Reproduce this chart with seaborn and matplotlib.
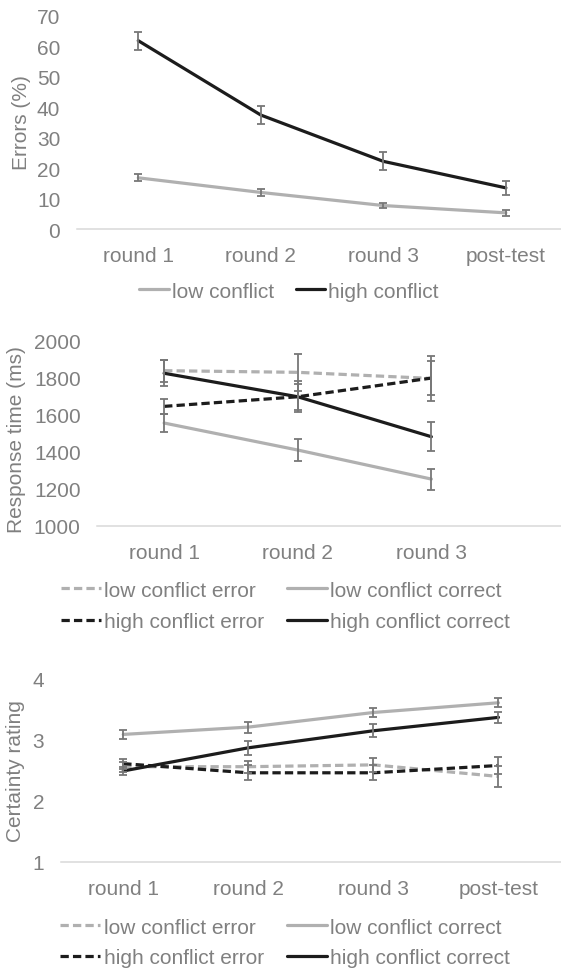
import numpy as np
import pandas as pd
import matplotlib.pyplot as plt
import seaborn as sns

# categories
rounds4 = ["round 1", "round 2", "round 3", "post-test"]
rounds3 = ["round 1", "round 2", "round 3"]

# panel 1: errors (%)
err_low = [16.8, 12.0, 7.7, 5.3]
err_low_se = [1.1, 1.2, 0.7, 1.0]
err_high = [61.8, 37.4, 22.2, 13.5]
err_high_se = [2.9, 2.9, 3.0, 2.2]

# panel 2: response time (ms)
rt_low_error = [1838, 1829, 1796]
rt_low_error_se = [60, 100, 120]
rt_low_correct = [1555, 1409, 1252]
rt_low_correct_se = [50, 60, 57]
rt_high_error = [1645, 1697, 1798]
rt_high_error_se = [40, 85, 90]
rt_high_correct = [1824, 1697, 1481]
rt_high_correct_se = [70, 70, 78]

# panel 3: certainty rating
cr_low_error = [2.56, 2.56, 2.59, 2.40]
cr_low_error_se = [0.08, 0.10, 0.11, 0.17]
cr_low_correct = [3.09, 3.21, 3.45, 3.61]
cr_low_correct_se = [0.08, 0.09, 0.08, 0.07]
cr_high_error = [2.61, 2.46, 2.46, 2.58]
cr_high_error_se = [0.08, 0.12, 0.12, 0.14]
cr_high_correct = [2.49, 2.87, 3.15, 3.37]
cr_high_correct_se = [0.06, 0.12, 0.11, 0.09]

sns.set_style("white")
plt.rcParams['font.family'] = ['Liberation Sans', 'DejaVu Sans']

TXT = '#808080'
LIGHT = '#b0b0b0'
DARK = '#1c1c1c'
EBAR = '#777777'
FS = 15
DASH = (0, (2.6, 1.3))
W, H = 561, 970

fig = plt.figure(figsize=(W / 100, H / 100), dpi=100)


def make_ax(left, top, right, bottom):
    return fig.add_axes([left / W, 1 - bottom / H, (right - left) / W, (bottom - top) / H])


def series(ax, cats, vals, se, label, color, ls):
    df = pd.DataFrame({'x': cats, 'y': vals})
    sns.lineplot(data=df, x='x', y='y', ax=ax, color=color, linestyle=ls,
                 lw=2.3, label=label, sort=False, zorder=2)
    ax.errorbar(cats, vals, yerr=se, fmt='none', ecolor=EBAR, elinewidth=1.3,
                capsize=3, capthick=1.3, zorder=3)


def style(ax, ylab, lab_xy):
    for s in ['top', 'right', 'left']:
        ax.spines[s].set_visible(False)
    ax.spines['bottom'].set_color('#d9d9d9')
    ax.spines['bottom'].set_linewidth(1.1)
    ax.tick_params(axis='both', length=0, labelsize=FS, labelcolor=TXT)
    ax.tick_params(axis='x', pad=12.5)
    ax.tick_params(axis='y', pad=12)
    ax.set_xlabel('')
    ax.set_ylabel(ylab, fontsize=FS, color=TXT, va='center')
    ax.yaxis.set_label_coords(lab_xy[0] / W, 1 - lab_xy[1] / H, transform=fig.transFigure)
    ax.grid(False)


leg_kw = dict(loc='center', bbox_transform=fig.transFigure, ncol=2, frameon=False,
              fontsize=FS, labelcolor=TXT, handletextpad=0.15, borderpad=0)

# ---- panel 1 ----
ax1 = make_ax(77, 16.7, 561, 230)
series(ax1, rounds4, err_low, err_low_se, 'low conflict', LIGHT, '-')
series(ax1, rounds4, err_high, err_high_se, 'high conflict', DARK, '-')
ax1.set_xlim(-0.5, 3.45)
ax1.set_ylim(0, 70)
ax1.set_yticks(np.arange(0, 71, 10))
style(ax1, 'Errors (%)', (22, 123))
ax1.legend(bbox_to_anchor=(289 / W, 1 - 292 / H), handlelength=1.4, columnspacing=1.05, **leg_kw)

# ---- panel 2 ----
ax2 = make_ax(97.3, 341.7, 561, 526.7)
series(ax2, rounds3, rt_low_error, rt_low_error_se, 'low conflict error', LIGHT, DASH)
series(ax2, rounds3, rt_high_error, rt_high_error_se, 'high conflict error', DARK, DASH)
series(ax2, rounds3, rt_low_correct, rt_low_correct_se, 'low conflict correct', LIGHT, '-')
series(ax2, rounds3, rt_high_correct, rt_high_correct_se, 'high conflict correct', DARK, '-')
ax2.set_xlim(-0.5, 2.97)
ax2.set_ylim(1000, 2000)
ax2.set_yticks(np.arange(1000, 2001, 200))
style(ax2, 'Response time (ms)', (17, 440))
ax2.legend(bbox_to_anchor=(285.5 / W, 1 - 607 / H), handlelength=1.92, columnspacing=1.1,
           labelspacing=0.6, **leg_kw)

# ---- panel 3 ----
ax3 = make_ax(60.7, 680, 561, 862.7)
series(ax3, rounds4, cr_low_error, cr_low_error_se, 'low conflict error', LIGHT, DASH)
series(ax3, rounds4, cr_high_error, cr_high_error_se, 'high conflict error', DARK, DASH)
series(ax3, rounds4, cr_low_correct, cr_low_correct_se, 'low conflict correct', LIGHT, '-')
series(ax3, rounds4, cr_high_correct, cr_high_correct_se, 'high conflict correct', DARK, '-')
ax3.set_xlim(-0.5, 3.5)
ax3.set_ylim(1, 4)
ax3.set_yticks([1, 2, 3, 4])
style(ax3, 'Certainty rating', (16, 771))
ax3.legend(bbox_to_anchor=(285 / W, 1 - 943.5 / H), handlelength=1.92, columnspacing=1.1,
           labelspacing=0.55, **leg_kw)

fig.savefig('out.png', dpi=100)
